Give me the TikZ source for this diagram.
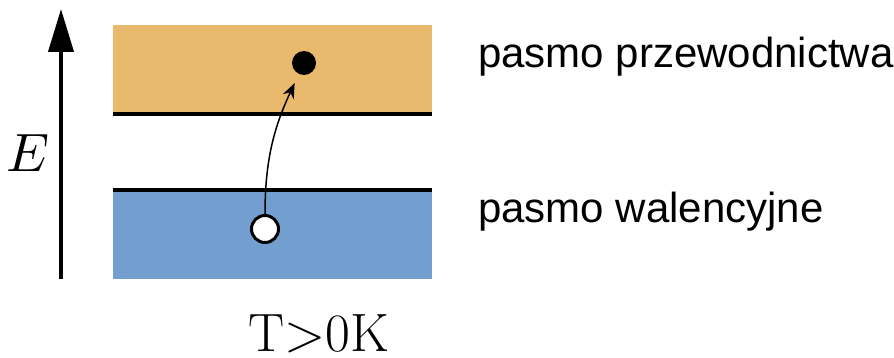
\documentclass[tikz,border=0pt]{standalone}
\usepackage{graphicx}
\usepackage{fontspec}
\newfontfamily\labelfont{Liberation Sans}
\usetikzlibrary{arrows.meta}
\definecolor{condband}{HTML}{E9B96E}
\definecolor{valband}{HTML}{729FCF}
\begin{document}
\begin{tikzpicture}[x=1pt,y=1pt,
  band/.style={draw=none,minimum width=319pt,minimum height=89pt,inner sep=0pt,anchor=south west},
  edge/.style={line width=4pt},
  bandlabel/.style={anchor=base west,inner sep=0pt,font=\labelfont\fontsize{42}{42}\selectfont}]
\useasboundingbox (0,0) rectangle (894,357);
% bands
\node[band,fill=condband] (cb) at (113,243) {};
\node[band,fill=valband] (vb) at (113,78) {};
\draw[edge] (cb.south west) -- (cb.south east);
\draw[edge] (vb.north west) -- (vb.north east);
% energy axis
\coordinate (ebot) at (61,78);
\coordinate (etop) at (61,348);
\draw[line width=4pt,-{Triangle[length=43pt,width=25pt]}] (ebot) -- (etop);
\node[anchor=base,inner sep=0pt] (E) at (28,186) {\scalebox{5.4}{$E$}};
% electron and hole
\node[circle,fill=black,minimum size=24pt,inner sep=0pt] (el) at (304,294) {};
\node[circle,draw=black,fill=white,line width=3pt,minimum size=27pt,inner sep=0pt] (ho) at (265,128) {};
\draw[line width=1.5pt,-{Stealth[length=15pt,width=12pt]},shorten >=10pt] (ho.north) to[out=90,in=-115] (el);
% labels
\node[bandlabel] (lc) at (478,290) {pasmo przewodnictwa};
\node[bandlabel] (lv) at (478,135) {pasmo walencyjne};
\node[anchor=base,inner sep=0pt,text depth=0pt,font=\fontsize{54}{54}\selectfont] (T) at (319,6) {T>0K};
\end{tikzpicture}
\end{document}
